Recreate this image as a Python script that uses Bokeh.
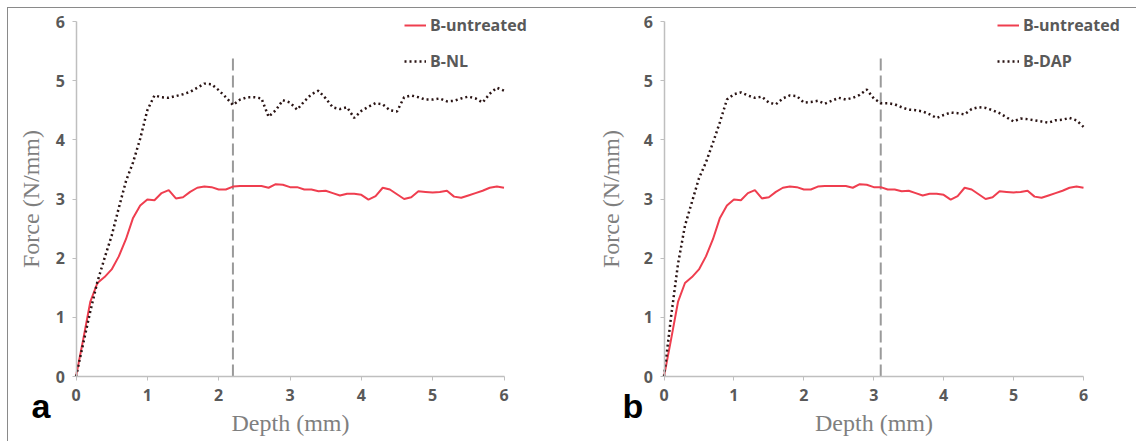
from bokeh.plotting import figure
from bokeh.models import Range1d, Legend, LegendItem, Label, FixedTicker
from bokeh.layouts import row
from bokeh.embed import file_html
from bokeh.resources import INLINE

# ---------------- data ----------------
depth = [0.0, 0.1, 0.2, 0.3, 0.4, 0.5, 0.6, 0.7, 0.8, 0.9,
         1.0, 1.1, 1.2, 1.3, 1.4, 1.5, 1.6, 1.7, 1.8, 1.9,
         2.0, 2.1, 2.2, 2.3, 2.4, 2.5, 2.6, 2.7, 2.8, 2.9,
         3.0, 3.1, 3.2, 3.3, 3.4, 3.5, 3.6, 3.7, 3.8, 3.9,
         4.0, 4.1, 4.2, 4.3, 4.4, 4.5, 4.6, 4.7, 4.8, 4.9,
         5.0, 5.1, 5.2, 5.3, 5.4, 5.5, 5.6, 5.7, 5.8, 5.9, 6.0]

b_untreated = [0.00, 0.62, 1.26, 1.58, 1.68, 1.81, 2.03, 2.32, 2.68, 2.89,
               2.99, 2.98, 3.10, 3.15, 3.01, 3.03, 3.12, 3.19, 3.21, 3.20,
               3.16, 3.16, 3.21, 3.22, 3.22, 3.22, 3.22, 3.19, 3.25, 3.24,
               3.20, 3.20, 3.16, 3.16, 3.13, 3.14, 3.10, 3.06, 3.09, 3.09,
               3.07, 2.99, 3.05, 3.19, 3.16, 3.08, 3.00, 3.03, 3.13, 3.12,
               3.11, 3.12, 3.14, 3.04, 3.02, 3.06, 3.10, 3.14, 3.19, 3.21, 3.19]

b_nl = [0.00, 0.55, 1.10, 1.60, 2.00, 2.38, 2.85, 3.30, 3.62, 4.02,
        4.50, 4.75, 4.72, 4.71, 4.74, 4.77, 4.81, 4.88, 4.95, 4.94,
        4.84, 4.72, 4.59, 4.68, 4.72, 4.72, 4.70, 4.39, 4.50, 4.67,
        4.63, 4.51, 4.65, 4.77, 4.83, 4.70, 4.55, 4.52, 4.55, 4.37,
        4.49, 4.56, 4.62, 4.60, 4.50, 4.48, 4.72, 4.75, 4.72, 4.68,
        4.68, 4.70, 4.65, 4.66, 4.70, 4.73, 4.70, 4.63, 4.78, 4.88, 4.83]

b_dap = [0.00, 1.00, 1.90, 2.55, 2.95, 3.35, 3.62, 3.95, 4.30, 4.68,
         4.77, 4.80, 4.75, 4.71, 4.73, 4.63, 4.60, 4.70, 4.75, 4.74,
         4.63, 4.64, 4.66, 4.61, 4.66, 4.71, 4.68, 4.71, 4.76, 4.85,
         4.70, 4.62, 4.62, 4.60, 4.55, 4.51, 4.50, 4.48, 4.43, 4.37,
         4.42, 4.46, 4.45, 4.43, 4.52, 4.55, 4.54, 4.50, 4.45, 4.38,
         4.31, 4.36, 4.35, 4.33, 4.31, 4.29, 4.33, 4.34, 4.37, 4.33, 4.22]

ticks = [0, 1, 2, 3, 4, 5, 6]
marker_depth_a = 2.2
marker_depth_b = 3.1
marker_top = 5.45

RED = "#ef3e4f"
DARK = "#2a1414"
TICK_COLOR = "#595959"
TITLE_COLOR = "#7f7f7f"
AXIS_COLOR = "#bfbfbf"
FRAME_COLOR = "#8a8a8a"

FIG_H = 434


def make_panel(width, px0, px6, name, values, marker_x, tag, tag_px,
               ylab_standoff, legend_px):
    # px0/px6: canvas pixel of depth 0 and 6; force 0 at canvas 368, 6 at 13
    sx = (px6 - px0) / 6.0
    xr = Range1d(-px0 / sx, (width - px0) / sx)
    py0, py6 = 368.0, 13.0
    sy = (py0 - py6) / 6.0
    y_top = 6 + py6 / sy
    yr = Range1d(-(FIG_H - py0) / sy, y_top)

    p = figure(width=width, height=FIG_H, x_range=xr, y_range=yr,
               output_backend="svg", toolbar_location=None,
               min_border_left=0, min_border_right=0,
               min_border_top=0, min_border_bottom=0)
    p.xgrid.visible = False
    p.ygrid.visible = False
    p.outline_line_color = None
    p.background_fill_color = "white"
    p.border_fill_color = "white"

    for ax in (p.xaxis[0], p.yaxis[0]):
        ax.fixed_location = 0
        ax.bounds = (0, 6)
        ax.ticker = FixedTicker(ticks=ticks)
        ax.axis_line_color = AXIS_COLOR
        ax.axis_line_width = 1.5
        ax.major_tick_line_color = AXIS_COLOR
        ax.major_tick_out = 4
        ax.major_tick_in = 0
        ax.minor_tick_line_color = None
        ax.major_label_text_font = "Open Sans"
        ax.major_label_text_font_style = "bold"
        ax.major_label_text_font_size = "16px"
        ax.major_label_text_color = TICK_COLOR
        ax.axis_label_text_font = "Liberation Serif"
        ax.axis_label_text_font_style = "normal"
        ax.axis_label_text_font_size = "24px"
        ax.axis_label_text_color = TITLE_COLOR

    p.xaxis.axis_label = "Depth (mm)"
    p.xaxis.major_label_standoff = 8
    p.xaxis.axis_label_standoff = 6
    p.yaxis.axis_label = "Force (N/mm)"
    p.yaxis.major_label_standoff = 7
    p.yaxis.axis_label_standoff = ylab_standoff

    p.segment(x0=[marker_x], y0=[0], x1=[marker_x], y1=[marker_top],
              line_color="#9a9a9a", line_width=2, line_dash="12 5")

    r1 = p.line(depth, b_untreated, line_color=RED, line_width=2)
    r2 = p.line(depth, values, line_color=DARK, line_width=2.5, line_dash="2 3")

    legend = Legend(items=[LegendItem(label="B-untreated", renderers=[r1]),
                           LegendItem(label=name, renderers=[r2])],
                    location=(legend_px, 370))
    legend.border_line_color = None
    legend.background_fill_alpha = 0
    legend.padding = 0
    legend.margin = 0
    legend.spacing = 14
    legend.glyph_width = 22
    legend.glyph_height = 20
    legend.label_height = 20
    legend.label_width = 110
    legend.label_standoff = 4
    legend.label_text_font = "Open Sans"
    legend.label_text_font_style = "bold"
    legend.label_text_font_size = "16px"
    legend.label_text_color = TICK_COLOR
    p.add_layout(legend)

    p.add_layout(Label(x=(tag_px - px0) / sx, y=-(397 - py0) / sy, text=tag,
                       text_font="Liberation Sans", text_font_style="bold",
                       text_font_size="34px", text_color="black",
                       text_baseline="alphabetic"))
    return p


pa = make_panel(560, 67.5, 495.5, "B-NL", b_nl, marker_depth_a, "a", 23, 9, 396)
pb = make_panel(569, 95.5, 515.0, "B-DAP", b_dap, marker_depth_b, "b", 54, 17, 429)

# thin gray frame on the top and left edges of the whole picture
layout = row(pa, pb, margin=(8, 0, 0, 8),
             styles={"box-shadow": "-1px -1px 0 0 " + FRAME_COLOR})

open("out.html", "w").write(file_html(layout, INLINE))
